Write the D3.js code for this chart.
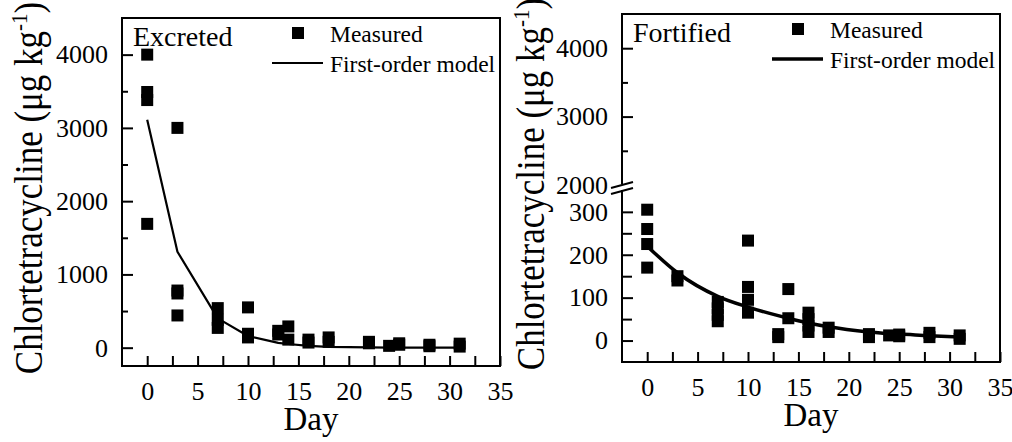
<!DOCTYPE html>
<html>
<head>
<meta charset="utf-8">
<script src="https://cdn.jsdelivr.net/npm/d3@7"></script>
<style>
  html, body { margin: 0; padding: 0; background: #fff; }
  svg { display: block; }
  text { font-family: "Liberation Serif", "Times New Roman", serif; fill: #000; }
</style>
</head>
<body>
<svg id="chart" width="1012" height="442"></svg>
<script>
// ---------------- data ----------------
const excretedDay = [0,0,0,0,3,3,3,3,7,7,7,10,10,10,13,13,14,14,16,16,18,18,22,22,24,25,25,28,28,31,31];
const excretedMeasured = [4000,3490,3380,1690,3000,780,740,440,540,380,270,550,190,140,230,180,290,110,110,70,140,80,80,60,25,60,40,40,20,55,15];

const fortifiedDay = [0,0,0,0,3,3,7,7,7,7,10,10,10,10,13,13,14,14,16,16,16,16,18,18,22,22,24,25,25,28,28,31,31];
const fortifiedMeasured = [305,260,225,170,150,140,90,75,60,45,233,125,95,65,15,8,120,52,65,50,35,20,30,20,15,8,12,14,10,18,8,12,4];

const modelDay = [0,3,7,10,13,14,16,18,22,24,25,28,31];
const excretedModel = [3110,1310,400,160,65,50,25,12,4,2,1,0,0];
const fortifiedModel = [220,158,103,78,58,52,41,32,20,16,15,11,8];

const xMajorTicks = [0,5,10,15,20,25,30,35];
const xMinorTicks = [2.5,7.5,12.5,17.5,22.5,27.5,32.5];
const excretedYMajor = [0,1000,2000,3000,4000];
const excretedYMinor = [500,1500,2500,3500];
const fortLowMajor = [0,100,200,300];
const fortLowMinor = [50,150,250];
const fortHighMajor = [3000,4000];
const fortHighMinor = [2500,3500];
const fortBreakLabel = [2000];

const panelTitles = ["Excreted", "Fortified"];
const legendLabels = ["Measured", "First-order model"];
const xTitle = "Day";
const yTitleMain = "Chlortetracycline (\u03bcg kg";
const yTitleSup = "-1";
const yTitleEnd = ")";

// ---------------- drawing ----------------
const svg = d3.select("#chart");

function drawYTitle(g, x, y) {
  const t = g.append("text")
    .attr("transform", `translate(${x},${y}) rotate(-90) scale(1,1.12)`)
    .attr("text-anchor", "middle")
    .style("font-size", "35px");
  t.append("tspan").text(yTitleMain);
  t.append("tspan").attr("dy", -13).style("font-size", "21px").text(yTitleSup);
  t.append("tspan").attr("dy", 13).text(yTitleEnd);
}

function styleAxis(sel) {
  sel.select(".domain").remove();
  sel.selectAll("line").attr("stroke", "#000").attr("stroke-width", 2);
  sel.selectAll("text").style("font-size", "26px").attr("fill", "#000")
     .style("font-family", '"Liberation Serif", "Times New Roman", serif');
}

function drawPanel(cfg) {
  const g = svg.append("g");
  const { x, y, left, right, top, bottom } = cfg;

  // x axis ticks
  g.append("g").attr("transform", `translate(0,${bottom})`)
    .call(d3.axisBottom(x).tickValues(xMajorTicks).tickSize(-10).tickPadding(16).tickFormat(d3.format("d")))
    .call(styleAxis);
  g.append("g").attr("transform", `translate(0,${bottom})`)
    .call(d3.axisBottom(x).tickValues(xMinorTicks).tickSize(-10).tickFormat(""))
    .call(styleAxis);

  // y axis ticks
  cfg.yTicks.forEach(t => {
    g.append("g").attr("transform", `translate(${left},0)`)
      .call(d3.axisLeft(y).tickValues(t.values).tickSize(-t.size).tickPadding(14)
        .tickFormat(t.label ? d3.format("d") : ""))
      .call(styleAxis);
  });

  // frame
  const frame = g.append("g").attr("stroke", "#000").attr("stroke-width", 2).attr("fill", "none");
  frame.append("line").attr("x1", left - 1).attr("x2", right + 1).attr("y1", top).attr("y2", top);
  frame.append("line").attr("x1", left - 1).attr("x2", right + 1).attr("y1", bottom).attr("y2", bottom);
  frame.append("line").attr("x1", right).attr("x2", right).attr("y1", top).attr("y2", bottom);
  if (cfg.breakAt) {
    const [b1, b2] = cfg.breakAt; // pixel positions of the gap
    frame.append("line").attr("x1", left).attr("x2", left).attr("y1", top).attr("y2", b1);
    frame.append("line").attr("x1", left).attr("x2", left).attr("y1", b2).attr("y2", bottom);
    frame.append("line").attr("x1", left - 11).attr("x2", left + 11).attr("y1", b1 + 4).attr("y2", b1 - 2).attr("stroke-width", 2);
    frame.append("line").attr("x1", left - 11).attr("x2", left + 11).attr("y1", b2 + 4).attr("y2", b2 - 2).attr("stroke-width", 2);
  } else {
    frame.append("line").attr("x1", left).attr("x2", left).attr("y1", top).attr("y2", bottom);
  }

  // model line
  const line = d3.line().x((d, i) => x(modelDay[i])).y(d => y(d)).curve(cfg.curve);
  g.append("path").datum(cfg.model).attr("d", line)
    .attr("fill", "none").attr("stroke", "#000").attr("stroke-width", cfg.lineWidth)
    .attr("stroke-linejoin", "round");

  // measured squares
  const s = 12;
  g.append("g").selectAll("rect").data(cfg.measured).join("rect")
    .attr("x", (d, i) => x(cfg.days[i]) - s / 2)
    .attr("y", d => y(d) - s / 2)
    .attr("width", s).attr("height", s).attr("fill", "#000");

  // panel title
  g.append("text").attr("x", left + 11).attr("y", top + 28).style("font-size", "28px").text(cfg.title);

  // legend
  const lx = cfg.legendX, ly = top;
  g.append("rect").attr("x", lx + 26 - 6).attr("y", ly + 15 - 6).attr("width", 12).attr("height", 12).attr("fill", "#000");
  g.append("text").attr("x", lx + 58).attr("y", ly + 24).style("font-size", "23.5px").text(legendLabels[0]);
  g.append("line").attr("x1", lx).attr("x2", lx + 51).attr("y1", ly + 45).attr("y2", ly + 45)
    .attr("stroke", "#000").attr("stroke-width", cfg.lineWidth);
  g.append("text").attr("x", lx + 58).attr("y", ly + 53.5).style("font-size", "23.5px").text(legendLabels[1]);

  // axis titles
  g.append("text").attr("x", (left + right) / 2).attr("y", bottom + 64).attr("text-anchor", "middle")
    .style("font-size", "33px").text(xTitle);
  drawYTitle(g, cfg.yTitleX, (top + bottom) / 2 - 4);
}

// Excreted panel
const x1 = d3.scaleLinear().domain([-2.5, 35]).range([122, 500]);
const y1 = d3.scaleLinear().domain([-250, 4500]).range([366, 18]);
drawPanel({
  x: x1, y: y1, left: 122, right: 500, top: 18, bottom: 366,
  yTicks: [
    { values: excretedYMajor, size: 11, label: true },
    { values: excretedYMinor, size: 6, label: false }
  ],
  days: excretedDay, measured: excretedMeasured, model: excretedModel,
  curve: d3.curveLinear, lineWidth: 2.2,
  title: panelTitles[0], legendX: 272, yTitleX: 42
});

// Fortified panel (broken y axis)
const x2 = d3.scaleLinear().domain([-2.5, 35]).range([622, 1000]);
const y2 = d3.scaleLinear().domain([-50, 350, 2000, 4500]).range([362, 190.4, 185, 14]);
drawPanel({
  x: x2, y: y2, left: 622, right: 1000, top: 14, bottom: 362,
  yTicks: [
    { values: fortLowMajor, size: 11, label: true },
    { values: fortLowMinor, size: 10, label: false },
    { values: fortHighMajor, size: 11, label: true },
    { values: fortHighMinor, size: 6, label: false },
    { values: fortBreakLabel, size: 0, label: true }
  ],
  days: fortifiedDay, measured: fortifiedMeasured, model: fortifiedModel,
  curve: d3.curveMonotoneX, lineWidth: 3.5,
  title: panelTitles[1], legendX: 772, yTitleX: 544,
  breakAt: [184, 190]
});
</script>
</body>
</html>
